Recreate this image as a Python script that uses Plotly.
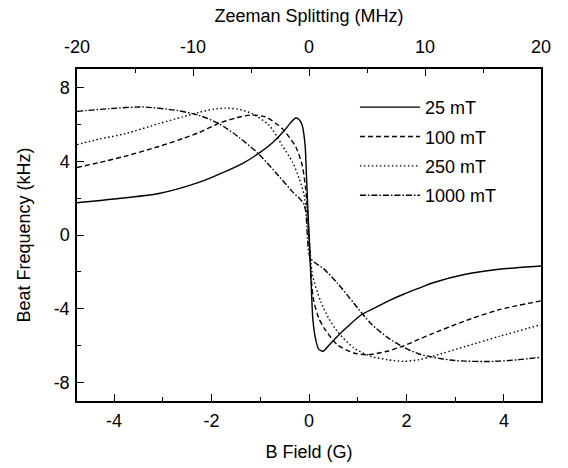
import plotly.graph_objects as go

# ---- data ----
series_names = ["25 mT", "100 mT", "250 mT", "1000 mT"]

b_25 = [-4.76, -4.0, -3.08, -2.26, -1.71, -1.35, -1.04, -0.75, -0.51, -0.38, -0.27, -0.2, -0.14, -0.08, -0.05, 0.0,
        0.05, 0.08, 0.14, 0.2, 0.29, 0.4, 0.58, 0.8, 1.06, 1.35, 1.61, 1.95, 2.26, 2.53, 3.21, 3.9, 4.76]
f_25 = [1.75, 1.95, 2.25, 2.85, 3.45, 3.9, 4.41, 5.0, 5.65, 6.08, 6.34, 6.25, 5.95, 4.86, 3.06, 0.0,
        -3.0, -4.6, -5.7, -6.2, -6.3, -6.0, -5.5, -4.95, -4.35, -3.95, -3.6, -3.2, -2.88, -2.6, -2.13, -1.86, -1.68]

b_100 = [-4.76, -4.3, -3.76, -3.08, -2.6, -2.26, -1.85, -1.5, -1.2, -0.89, -0.55, -0.27, -0.14, -0.07, 0.0,
         0.05, 0.1, 0.2, 0.31, 0.58, 0.92, 1.2, 1.61, 1.95, 2.26, 2.53, 3.21, 3.9, 4.76]
f_100 = [3.66, 3.93, 4.28, 4.8, 5.22, 5.55, 6.05, 6.35, 6.5, 6.4, 5.77, 4.77, 3.78, 2.52, 0.0,
         -2.5, -3.6, -4.5, -5.05, -5.95, -6.4, -6.49, -6.3, -6.0, -5.65, -5.35, -4.65, -4.05, -3.57]

b_250 = [-4.76, -4.3, -3.76, -3.08, -2.6, -2.26, -1.95, -1.71, -1.45, -1.16, -0.82, -0.55, -0.34, -0.2, -0.1, 0.0,
         0.07, 0.24, 0.4, 0.58, 0.92, 1.27, 1.61, 1.95, 2.26, 2.53, 3.21, 3.9, 4.76]
f_250 = [4.9, 5.2, 5.5, 6.04, 6.4, 6.65, 6.82, 6.88, 6.82, 6.57, 5.95, 4.86, 3.96, 3.06, 2.16, 0.0,
         -2.16, -3.6, -4.5, -5.23, -6.12, -6.58, -6.76, -6.85, -6.76, -6.58, -6.04, -5.5, -4.86]

b_1000 = [-4.76, -4.1, -3.42, -2.73, -2.26, -1.85, -1.44, -1.04, -0.62, -0.34, -0.1, 0.03,
          0.31, 0.58, 0.92, 1.27, 1.61, 1.95, 2.26, 2.53, 2.9, 3.21, 3.6, 3.9, 4.3, 4.76]
f_1000 = [6.7, 6.85, 6.94, 6.76, 6.49, 6.04, 5.3, 4.41, 3.2, 2.35, 1.65, -1.26,
          -1.85, -2.6, -3.7, -4.8, -5.55, -6.1, -6.45, -6.62, -6.78, -6.84, -6.86, -6.84, -6.76, -6.63]

x_ticks = [-4, -2, 0, 2, 4]
y_ticks = [-8, -4, 0, 4, 8]
top_ticks = [-20, -10, 0, 10, 20]

# ---- styling ----
FONT = "Liberation Sans, Arial, Helvetica, sans-serif"
dashes = ["solid", "5px,3px", "1.5px,2.5px", "6px,2px,1.5px,2px"]
all_b = [b_25, b_100, b_250, b_1000]
all_f = [f_25, f_100, f_250, f_1000]


def labels(vals):
    return [str(v) for v in vals]  # plain hyphen-minus as in the reference


fig = go.Figure()
for i, (name, bx, fy) in enumerate(zip(series_names, all_b, all_f)):
    fig.add_trace(go.Scatter(
        x=bx, y=fy, mode="lines", name=name,
        line=dict(color="black", width=1.4, dash=dashes[i], shape="spline", smoothing=0.7),
        legendgroup=name,
    ))

# invisible trace to carry the top axis
fig.add_trace(go.Scatter(x=[top_ticks[0], top_ticks[-1]], y=[None, None], xaxis="x2",
                         showlegend=False, hoverinfo="skip"))

axis_common = dict(
    showline=True, linecolor="black", linewidth=1.5,
    ticks="inside", ticklen=7, tickwidth=1.3, tickcolor="black",
    showgrid=False, zeroline=False, automargin=False,
    tickfont=dict(family=FONT, size=18, color="black"),
)

fig.update_layout(
    width=568, height=468,
    margin=dict(l=77, r=27, t=69, b=67, autoexpand=False),
    paper_bgcolor="white", plot_bgcolor="white",
    font=dict(family=FONT, size=18, color="black"),
    showlegend=True,
    legend=dict(
        x=0.599, y=0.94, xanchor="left", yanchor="top",
        bgcolor="rgba(0,0,0,0)", borderwidth=0,
        font=dict(family=FONT, size=18, color="black"),
        tracegroupgap=3, itemwidth=60,
    ),
    xaxis=dict(
        range=[-4.76, 4.76], tickvals=x_ticks, ticktext=labels(x_ticks), ticklabelstandoff=3,
        minor=dict(tickvals=[-3, -1, 1, 3], ticks="inside", ticklen=4, tickwidth=1.3, tickcolor="black"),
        title=dict(text="B Field (G)", font=dict(family=FONT, size=18), standoff=15),
        **axis_common,
    ),
    xaxis2=dict(
        overlaying="x", side="top", anchor="y",
        range=[-20, 20], tickvals=top_ticks, ticktext=labels(top_ticks), ticklabelstandoff=7,
        minor=dict(tickvals=[-15, -5, 5, 15], ticks="inside", ticklen=4, tickwidth=1.3, tickcolor="black"),
        title=dict(text="Zeeman Splitting (MHz)", font=dict(family=FONT, size=18), standoff=10),
        **axis_common,
    ),
    yaxis=dict(
        range=[-9, 9], tickvals=y_ticks, ticktext=labels(y_ticks), mirror=True, ticklabelstandoff=2,
        minor=dict(tickvals=[-6, -2, 2, 6], ticks="inside", ticklen=4, tickwidth=1.3, tickcolor="black"),
        title=dict(text="Beat Frequency (kHz)", font=dict(family=FONT, size=18), standoff=18),
        **axis_common,
    ),
)

fig.write_html(
    "out.html",
    config={"displayModeBar": False},
    post_script="document.body.style.margin='0';document.body.style.overflow='hidden';",
)
